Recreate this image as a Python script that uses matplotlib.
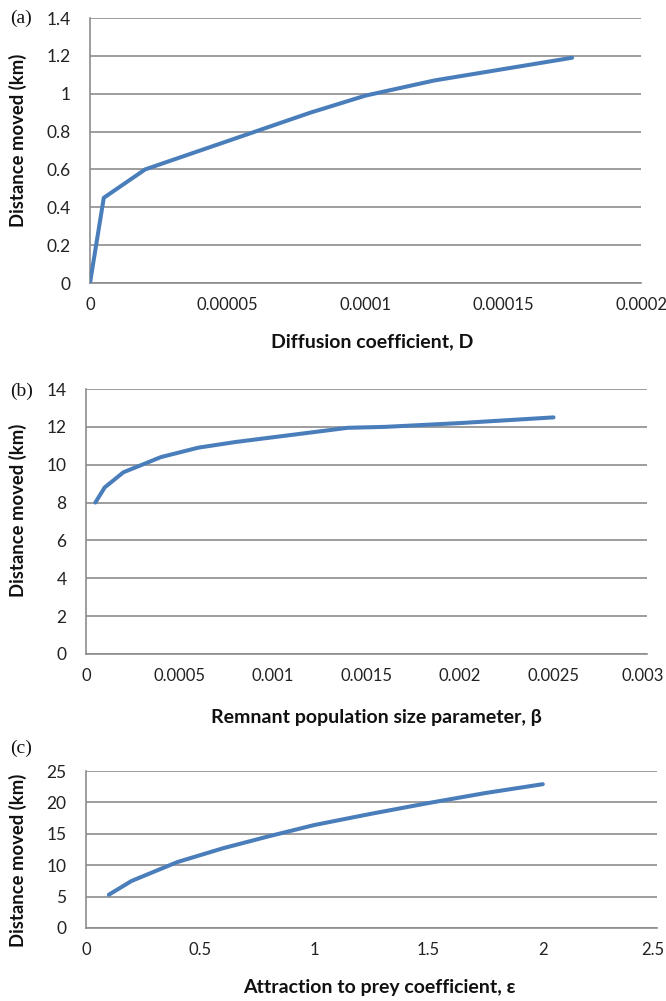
import matplotlib
matplotlib.use("Agg")
import matplotlib.pyplot as plt
from matplotlib.transforms import ScaledTranslation

# Panel (a)
a_x = [0, 0.000005, 0.00002, 0.00004, 0.00006, 0.00008, 0.0001, 0.000125, 0.00015, 0.000175]
a_y = [0, 0.45, 0.60, 0.70, 0.80, 0.90, 0.99, 1.07, 1.13, 1.19]
a_xticks = [0, 0.00005, 0.0001, 0.00015, 0.0002]
a_xticklabels = ["0", "0.00005", "0.0001", "0.00015", "0.0002"]
a_yticks = [0, 0.2, 0.4, 0.6, 0.8, 1.0, 1.2, 1.4]
a_yticklabels = ["0", "0.2", "0.4", "0.6", "0.8", "1", "1.2", "1.4"]

# Panel (b)
b_x = [0.00005, 0.0001, 0.0002, 0.0004, 0.0006, 0.0008, 0.001, 0.0012, 0.0014, 0.0016, 0.0018, 0.002, 0.0025]
b_y = [8.0, 8.8, 9.6, 10.4, 10.9, 11.2, 11.45, 11.7, 11.95, 12.0, 12.1, 12.2, 12.5]
b_xticks = [0, 0.0005, 0.001, 0.0015, 0.002, 0.0025, 0.003]
b_xticklabels = ["0", "0.0005", "0.001", "0.0015", "0.002", "0.0025", "0.003"]
b_yticks = [0, 2, 4, 6, 8, 10, 12, 14]
b_yticklabels = ["0", "2", "4", "6", "8", "10", "12", "14"]

# Panel (c)
c_x = [0.1, 0.2, 0.4, 0.6, 0.8, 1.0, 1.25, 1.5, 1.75, 2.0]
c_y = [5.3, 7.5, 10.5, 12.7, 14.6, 16.4, 18.2, 19.9, 21.5, 22.9]
c_xticks = [0, 0.5, 1, 1.5, 2, 2.5]
c_xticklabels = ["0", "0.5", "1", "1.5", "2", "2.5"]
c_yticks = [0, 5, 10, 15, 20, 25]
c_yticklabels = ["0", "5", "10", "15", "20", "25"]

ylabel_text = "Distance moved (km)"
xlabels = ["Diffusion coefficient, D", "Remnant population size parameter, \u03b2",
           "Attraction to prey coefficient, \u03b5"]
panel_labels = ["(a)", "(b)", "(c)"]

W, H = 666, 1001
fig = plt.figure(figsize=(W / 100, H / 100), dpi=100)

LINE = "#4a7ebb"
GRID = "#8c8c8c"
TFONT = ["Lato", "DejaVu Sans"]


def px_axes(left, right, top, bottom):
    return fig.add_axes([left / W, 1 - bottom / H, (right - left) / W, (bottom - top) / H])


specs = [
    dict(box=(90, 641, 18, 283), x=a_x, y=a_y, xt=a_xticks, xtl=a_xticklabels,
         yt=a_yticks, ytl=a_yticklabels, xlim=(0, 0.0002), ylim=(0, 1.4),
         ylab_y=140, xlab=(372, 342), pl_y=18, last_shift=0),
    dict(box=(86, 647, 389, 654), x=b_x, y=b_y, xt=b_xticks, xtl=b_xticklabels,
         yt=b_yticks, ytl=b_yticklabels, xlim=(0, 0.003), ylim=(0, 14),
         ylab_y=510, xlab=(376, 717), pl_y=391, last_shift=-4),
    dict(box=(86, 657, 771, 928), x=c_x, y=c_y, xt=c_xticks, xtl=c_xticklabels,
         yt=c_yticks, ytl=c_yticklabels, xlim=(0, 2.5), ylim=(0, 25),
         ylab_y=860, xlab=(379, 987), pl_y=748, last_shift=-4),
]

for i, s in enumerate(specs):
    ax = px_axes(*s["box"])
    ax.plot(s["x"], s["y"], color=LINE, lw=2.9, solid_capstyle="round", zorder=3)
    ax.set_xlim(*s["xlim"])
    ax.set_ylim(*s["ylim"])
    ax.set_xticks(s["xt"])
    ax.set_xticklabels(s["xtl"], fontsize=12, family=TFONT, color="#222222")
    ax.set_yticks(s["yt"])
    ax.set_yticklabels(s["ytl"], fontsize=12.5, family=TFONT, color="#222222")
    ax.tick_params(axis="y", length=0, pad=14)
    ax.tick_params(axis="x", length=0, pad=10)
    if s["last_shift"]:
        lab = ax.get_xticklabels()[-1]
        lab.set_transform(lab.get_transform() +
                          ScaledTranslation(s["last_shift"] / 100, 0, fig.dpi_scale_trans))
    ax.grid(axis="y", color=GRID, lw=1.2, zorder=0)
    for side in ["top", "right"]:
        ax.spines[side].set_visible(False)
    ax.spines["left"].set_color(GRID)
    ax.spines["bottom"].set_color(GRID)
    ax.spines["left"].set_linewidth(1.2)
    ax.spines["bottom"].set_linewidth(1.2)
    ax.set_axisbelow(True)
    fig.text(18 / W, 1 - s["ylab_y"] / H, ylabel_text, rotation=90, ha="center", va="center",
             fontsize=13.3, fontweight="bold", family=TFONT, color="#111111")
    fig.text(s["xlab"][0] / W, 1 - s["xlab"][1] / H, xlabels[i], ha="center", va="center",
             fontsize=14, fontweight="bold", family=TFONT, color="#111111")
    fig.text(10 / W, 1 - s["pl_y"] / H, panel_labels[i], ha="left", va="center",
             fontsize=14, family=["Liberation Serif", "DejaVu Serif"], color="#111111")

fig.savefig("out.png", dpi=100, facecolor="white")
